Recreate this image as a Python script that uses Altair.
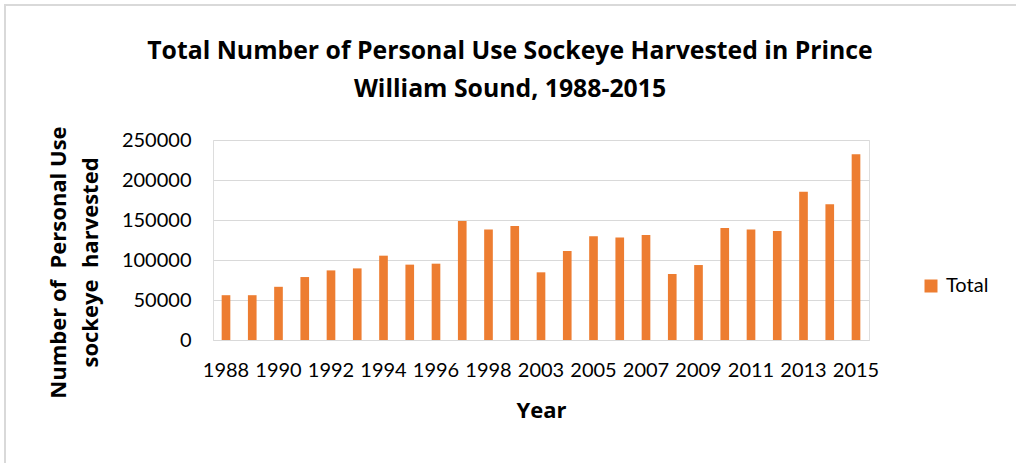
import altair as alt
import pandas as pd

# Personal use sockeye harvest, Prince William Sound
years = ["1988", "1989", "1990", "1991", "1992", "1993", "1994", "1995", "1996",
         "1997", "1998", "2002", "2003", "2004", "2005", "2006", "2007", "2008",
         "2009", "2010", "2011", "2012", "2013", "2014", "2015"]
totals = [56000, 56000, 66500, 78700, 87000, 89500, 105400, 94200, 95400,
          148700, 138000, 142500, 84600, 111200, 129600, 128000, 131200, 82500,
          93700, 140000, 138000, 136200, 185400, 169600, 232100]
labeled_years = ["1988", "1990", "1992", "1994", "1996", "1998", "2003", "2005",
                 "2007", "2009", "2011", "2013", "2015"]
y_ticks = [0, 50000, 100000, 150000, 200000, 250000]

df = pd.DataFrame({"Year": years, "Harvest": totals, "Series": ["Total"] * len(years)})

FONT = "Lato"
TITLE_FONT = "Open Sans"
ORANGE = "#ED7D31"
GRID = "#d9d9d9"

bars = alt.Chart(df).mark_bar(color=ORANGE).encode(
    x=alt.X(
        "Year:N",
        sort=years,
        scale=alt.Scale(paddingInner=0.67, paddingOuter=0.33),
        axis=alt.Axis(
            values=labeled_years,
            labelAngle=0,
            labelFontSize=20,
            labelFont=FONT,
            labelColor="#000000",
            labelPadding=20,
            ticks=False,
            domain=True,
            domainColor=GRID,
            domainWidth=1,
            title="Year",
            titleFont=TITLE_FONT,
            titleFontSize=22,
            titleFontWeight="bold",
            titleColor="#000000",
            titlePadding=20,
        ),
    ),
    y=alt.Y(
        "Harvest:Q",
        scale=alt.Scale(domain=[0, 250000]),
        axis=alt.Axis(
            values=y_ticks,
            format="d",
            grid=True,
            gridColor=GRID,
            gridWidth=1,
            domain=False,
            ticks=False,
            labelFontSize=20,
            labelFont=FONT,
            labelColor="#000000",
            labelPadding=22,
            title=["Number of \u00a0Personal Use", "sockeye \u00a0harvested"],
            titleFont=TITLE_FONT,
            titleFontSize=22,
            titleFontWeight="bold",
            titleColor="#000000",
            titleAngle=270,
            titleAlign="center",
            titleBaseline="alphabetic",
            titleLineHeight=32,
            titleX=-148,
            titleY=122,
        ),
    ),
    fill=alt.Fill(
        "Series:N",
        scale=alt.Scale(range=[ORANGE]),
        legend=alt.Legend(
            title=None,
            orient="none",
            legendX=708,
            legendY=136,
            symbolType="square",
            symbolSize=169,
            symbolStrokeWidth=0,
            labelFontSize=20,
            labelFont=FONT,
            labelColor="#000000",
            labelOffset=5,
            padding=0,
        ),
    ),
)

# light frame around the whole figure
frame = alt.Chart(df).mark_rect(
    fill=None, stroke=GRID, strokeWidth=2, clip=False
).encode(
    x=alt.value(5 - 213),
    x2=alt.value(1200),
    y=alt.value(5 - 140),
    y2=alt.value(700),
)

chart = alt.layer(frame, bars).properties(
    width=656,
    height=200,
    padding={"left": 213, "top": 140, "right": 147, "bottom": 123},
    autosize=alt.AutoSizeParams(type="none"),
    title=alt.TitleParams(
        ["Total Number of Personal Use Sockeye Harvested in Prince",
         "William Sound, 1988-2015"],
        font=TITLE_FONT,
        fontSize=24.8,
        fontWeight="bold",
        color="#000000",
        anchor="middle",
        lineHeight=38,
        dx=-31,
        dy=98,
        offset=0,
    ),
).configure_view(stroke=None).configure(background="#ffffff")

chart.save("out.html", embed_options={"renderer": "svg", "actions": False})
